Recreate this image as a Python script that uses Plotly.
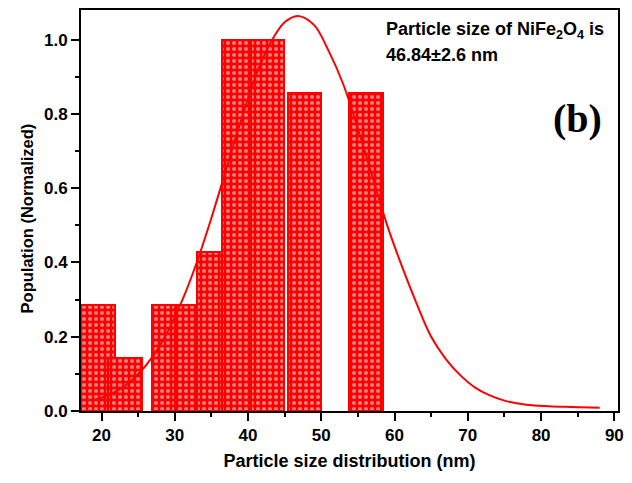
import plotly.graph_objects as go

# Histogram bars (bin centers, normalized population)
bar_centers = [19.5, 23.2, 29.2, 32.3, 35.3, 38.7, 42.65, 47.7, 56.1]
bar_heights = [2/7, 1/7, 2/7, 2/7, 3/7, 1.0, 1.0, 6/7, 6/7]
bar_width = 4.55

# Fitted distribution curve
curve_x = [19, 21, 23, 25, 27, 29, 31, 33, 35, 37, 39, 41, 43, 45, 46.8,
           49, 51, 53, 55, 57, 59, 61, 63, 65, 67, 69, 71, 73, 75, 78, 81, 84, 88]
curve_y = [0.030, 0.043, 0.065, 0.099, 0.147, 0.213, 0.297, 0.400, 0.520, 0.650,
           0.780, 0.900, 0.990, 1.047, 1.064,
           1.040, 0.970, 0.880, 0.760, 0.630, 0.500, 0.390, 0.290, 0.200, 0.140,
           0.096, 0.063, 0.042, 0.028, 0.017, 0.013, 0.011, 0.009]

x_ticks = [20, 30, 40, 50, 60, 70, 80, 90]
y_ticks = [0.0, 0.2, 0.4, 0.6, 0.8, 1.0]

RED = "#ff0000"
FONT = "Liberation Sans"

fig = go.Figure()
fig.add_trace(go.Bar(
    x=bar_centers, y=bar_heights, width=[bar_width] * len(bar_centers),
    marker=dict(color=RED, line=dict(color=RED, width=2),
                pattern=dict(shape=".", bgcolor=RED, fgcolor="white",
                             size=6, solidity=0.35, fillmode="overlay")),
    showlegend=False,
))
fig.add_trace(go.Scatter(
    x=curve_x, y=curve_y, mode="lines", line=dict(color=RED, width=2, shape="spline"),
    showlegend=False,
))

axis_common = dict(
    showline=True, linecolor="black", linewidth=2, mirror=True,
    ticks="outside", ticklen=8, tickwidth=2, tickcolor="black",
    showgrid=False, zeroline=False,
    tickfont=dict(family=FONT, size=17, color="black", weight="bold"),
)

fig.update_layout(
    width=632, height=483,
    margin=dict(l=81, r=9, t=8, b=72),
    paper_bgcolor="white", plot_bgcolor="white",
    bargap=0,
    xaxis=dict(range=[17.2, 90.5], tickvals=x_ticks,
               minor=dict(dtick=5, tick0=0, ticks="outside", ticklen=4, tickwidth=2, tickcolor="black"),
               title=dict(text="Particle size distribution (nm)", standoff=10,
                          font=dict(family=FONT, size=18, color="black", weight="bold")),
               **axis_common),
    yaxis=dict(range=[0, 1.08], tickvals=y_ticks, tickformat=".1f",
               minor=dict(dtick=0.1, tick0=0, ticks="outside", ticklen=4, tickwidth=2, tickcolor="black"),
               **axis_common),
    annotations=[
        dict(text="Population (Normalized)", xref="paper", yref="paper",
             x=-0.1, y=0.481, xanchor="center", yanchor="middle", textangle=-90,
             showarrow=False,
             font=dict(family=FONT, size=16.5, color="black", weight="bold")),
        dict(text="Particle size of NiFe<sub>2</sub>O<sub>4</sub> is", xref="paper", yref="paper",
             x=0.565, y=0.95, xanchor="left", yanchor="middle", showarrow=False,
             font=dict(family=FONT, size=18, color="black", weight="bold")),
        dict(text="46.84±2.6 nm", xref="paper", yref="paper",
             x=0.565, y=0.887, xanchor="left", yanchor="middle", showarrow=False,
             font=dict(family=FONT, size=18, color="black", weight="bold")),
        dict(text="(b)", xref="paper", yref="paper",
             x=0.925, y=0.73, xanchor="center", yanchor="middle", showarrow=False,
             font=dict(family="Liberation Serif", size=40, color="black", weight="bold")),
    ],
)

fig.write_html("out.html")
